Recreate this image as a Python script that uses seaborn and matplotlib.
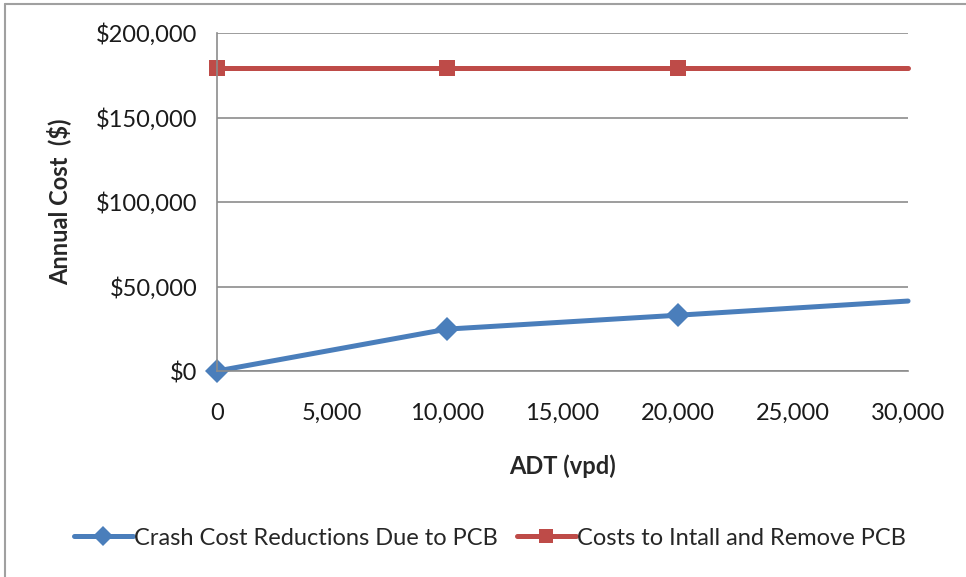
import matplotlib
matplotlib.use("Agg")
import matplotlib.pyplot as plt
import matplotlib.ticker as mticker
import pandas as pd
import seaborn as sns

# ADT values (vpd) and annual costs
adt = [0, 10000, 20000, 30000]
crash_reduction = [0, 24800, 33000, 41400]
install_remove = [179000, 179000, 179000, 179000]

series_names = ["Crash Cost Reductions Due to PCB", "Costs to Intall and Remove PCB"]
colors = ["#4A7EBB", "#BE4B48"]

df = pd.DataFrame({
    "ADT": adt * 2,
    "Cost": crash_reduction + install_remove,
    "Series": [series_names[0]] * len(adt) + [series_names[1]] * len(adt),
})

sns.set_style("white")
plt.rcParams["font.family"] = ["Lato", "DejaVu Sans"]

fig = plt.figure(figsize=(9.66, 5.77), dpi=100)
ax = fig.add_axes([0.2246, 0.357, 0.9400 - 0.2246, 0.9428 - 0.357])

sns.lineplot(
    data=df, x="ADT", y="Cost", hue="Series", style="Series",
    palette=colors, markers=["D", "s"], dashes=False,
    markersize=12, linewidth=3.6, markeredgewidth=0,
    ax=ax, legend=True, clip_on=False,
)
# the last point has no marker in the original
for line in ax.get_lines()[:2]:
    line.set_markevery([0, 1, 2])

ax.set_xlim(0, 30000)
ax.set_ylim(0, 200000)
ax.xaxis.set_major_locator(mticker.MultipleLocator(5000))
ax.yaxis.set_major_locator(mticker.MultipleLocator(50000))
ax.xaxis.set_major_formatter(mticker.FuncFormatter(lambda v, p: f"{int(v):,}"))
ax.yaxis.set_major_formatter(mticker.FuncFormatter(lambda v, p: f"${int(v):,}"))

ax.grid(axis="y", color="#8c8c8c", linewidth=1.2)
ax.set_axisbelow(True)
for s in ["top", "right"]:
    ax.spines[s].set_visible(False)
for s in ["left", "bottom"]:
    ax.spines[s].set_color("#8c8c8c")
    ax.spines[s].set_linewidth(1.2)

ax.tick_params(axis="both", which="major", length=7, width=1.2, color="#8c8c8c",
               labelsize=17, labelcolor="#1a1a1a", direction="out")
ax.tick_params(axis="x", pad=16)
ax.tick_params(axis="y", pad=7)

ax.set_xlabel("ADT (vpd)", fontsize=17, fontweight="bold", labelpad=22)
ax.set_ylabel("Annual Cost  ($)", fontsize=17, fontweight="bold", labelpad=18)

handles, labels = ax.get_legend_handles_labels()
ax.legend(handles, labels, loc="center", bbox_to_anchor=(0.507, 0.0675),
          bbox_transform=fig.transFigure, ncol=2, frameon=False,
          fontsize=17, handlelength=2.5, columnspacing=0.8, handletextpad=0.05,
          markerscale=0.85)

# chart frame (only left and top edges are visible in the reference)
fig.add_artist(plt.Line2D([0.0052, 0.0052], [0, 0.993], transform=fig.transFigure,
                          color="#a0a0a0", linewidth=1.5))
fig.add_artist(plt.Line2D([0.0052, 1.0], [0.993, 0.993], transform=fig.transFigure,
                          color="#a0a0a0", linewidth=1.5))

fig.savefig("out.png", dpi=100)
